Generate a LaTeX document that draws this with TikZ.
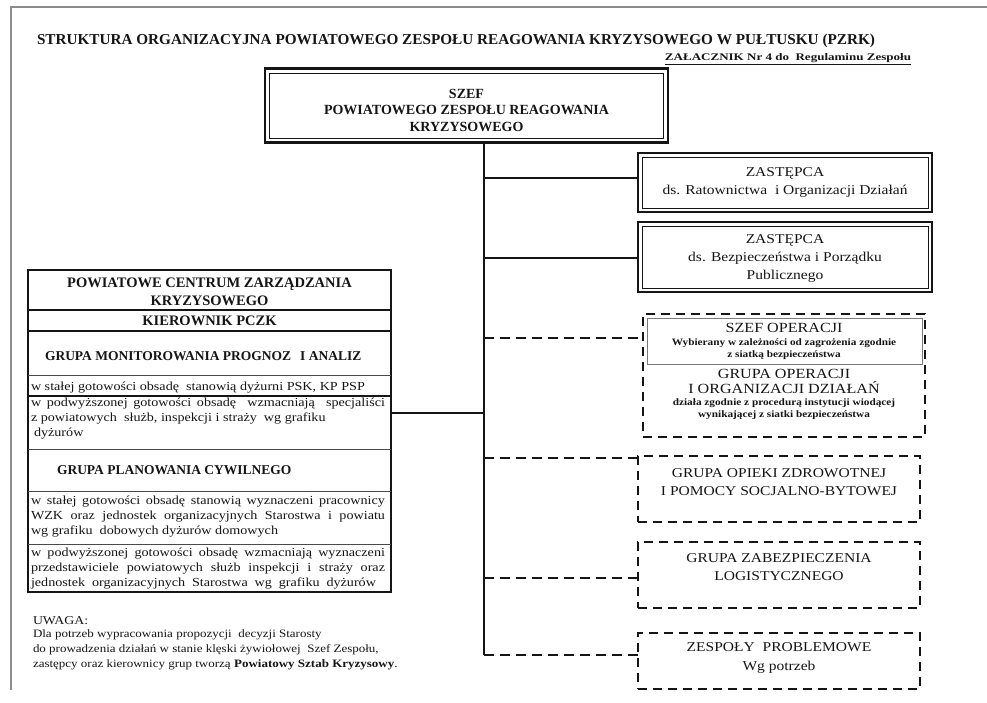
\documentclass[tikz,border=0pt]{standalone}
\usepackage{fontspec}
\usepackage{graphicx}
\setmainfont{Liberation Serif}
\newfontfamily\wideser[FakeStretch=1.15]{Liberation Serif}
\definecolor{ink}{HTML}{151515}
\definecolor{rulec}{HTML}{4A4A4A}
\definecolor{framec}{HTML}{8C8C8C}
\definecolor{innerc}{HTML}{7A7A7A}
\begin{document}
\begin{tikzpicture}[x=1pt,y=-1pt,
  every node/.style={inner sep=0pt,outer sep=0pt,text=ink},
  dblbox/.style={draw=ink,line width=2.6pt},
  innerln/.style={draw=ink,line width=0.8pt},
  thickbox/.style={draw=ink,line width=2.4pt},
  dashbox/.style={draw=ink,line width=2pt,dash pattern=on 9pt off 6pt},
  conn/.style={draw=ink,line width=1.4pt},
  dconn/.style={draw=ink,line width=1.8pt,dash pattern=on 10pt off 6pt},
  sepdark/.style={draw=ink,line width=1.5pt},
  seplight/.style={draw=rulec,line width=0.9pt},
  bighead/.style={font=\bfseries\fontsize{14}{16.5}\selectfont,align=center},
  rtext/.style={font=\wideser\fontsize{13.5}{18}\selectfont,align=center},
  smallb/.style={font=\wideser\bfseries\fontsize{9.8}{12}\selectfont,align=center},
  grouphd/.style={font=\bfseries\fontsize{13.5}{16}\selectfont,anchor=west},
  body/.style={font=\wideser\fontsize{12.3}{15}\selectfont,align=left,anchor=west},
  notebody/.style={font=\wideser\fontsize{11.3}{15}\selectfont,align=left,anchor=west}
]
\useasboundingbox (0,0) rectangle (987,703);
% page frame
\draw[framec,line width=1.2pt] (11,690) -- (11,7) -- (987,7);

% title
\node[anchor=base west] (title) at (37,45)
  {\resizebox{838pt}{10.5pt}{\bfseries STRUKTURA ORGANIZACYJNA POWIATOWEGO ZESPOŁU REAGOWANIA KRYZYSOWEGO W PUŁTUSKU (PZRK)}};
\node[anchor=base east] (zal) at (911,61)
  {\resizebox{246pt}{7pt}{\bfseries\underline{ZAŁACZNIK Nr 4 do\ \ Regulaminu Zespołu}}};

% chief
\node[dblbox,minimum width=403pt,minimum height=74pt] (szef) at (466.5,105.5) {};
\draw[innerln] ([shift={(4.5,4.5)}]szef.north west) rectangle ([shift={(-4.5,-4.5)}]szef.south east);
\node[bighead] (szeft) at (466.5,110) {SZEF\\POWIATOWEGO ZESPOŁU REAGOWANIA\\KRYZYSOWEGO};

% deputies
\node[dblbox,minimum width=294pt,minimum height=59pt] (z1) at (785,182.5) {};
\draw[innerln] ([shift={(4,4)}]z1.north west) rectangle ([shift={(-4,-4)}]z1.south east);
\node[rtext] (z1t) at (785,182) {ZASTĘPCA\\ds. Ratownictwa\ \ i Organizacji Działań};

\node[dblbox,minimum width=294pt,minimum height=70pt] (z2) at (785,257) {};
\draw[innerln] ([shift={(4,4)}]z2.north west) rectangle ([shift={(-4,-4)}]z2.south east);
\node[rtext] (z2t) at (785,258) {ZASTĘPCA\\ds. Bezpieczeństwa i Porządku\\Publicznego};

% operations group
\node[dashbox,minimum width=282pt,minimum height=123pt] (sg) at (784,375.5) {};
\node[draw=innerc,line width=0.8pt,minimum width=275pt,minimum height=46pt] (so) at (784.5,341) {};
\node[font=\wideser\fontsize{14}{15}\selectfont] (sot) at (784,328) {SZEF OPERACJI};
\node[smallb] (sos) at (784,349.5) {Wybierany w zależności od zagrożenia zgodnie\\z siatką bezpieczeństwa};
\node[font=\wideser\fontsize{14}{15}\selectfont,align=center] (got) at (784,381) {GRUPA OPERACJI\\I ORGANIZACJI DZIAŁAŃ};
\node[smallb] (gos) at (784,409.5) {działa zgodnie z procedurą instytucji wiodącej\\wynikającej z siatki bezpieczeństwa};

% other groups
\node[dashbox,minimum width=282pt,minimum height=66pt] (op) at (779,489) {};
\node[rtext] (opt) at (779,482) {GRUPA OPIEKI ZDROWOTNEJ\\I POMOCY SOCJALNO-BYTOWEJ};
\node[dashbox,minimum width=282pt,minimum height=66pt] (zb) at (779,575) {};
\node[rtext] (zbt) at (779,567) {GRUPA ZABEZPIECZENIA\\LOGISTYCZNEGO};
\node[dashbox,minimum width=282pt,minimum height=56pt] (zp) at (779,661) {};
\node[rtext,font=\wideser\fontsize{13.5}{19}\selectfont] (zpt) at (779,658) {ZESPOŁY\ \ PROBLEMOWE\\Wg potrzeb};

% PCZK box
\node[thickbox,minimum width=363pt,minimum height=322pt] (pczk) at (209.5,431) {};
\node[font=\bfseries\fontsize{14.5}{18}\selectfont,align=center] (pczkt) at (209.5,291.5) {POWIATOWE CENTRUM ZARZĄDZANIA\\KRYZYSOWEGO};
\draw[sepdark] (28,310) -- (391,310);
\node[font=\bfseries\fontsize{14.5}{18}\selectfont] (kier) at (209.5,321) {KIEROWNIK PCZK};
\draw[sepdark] (28,331) -- (391,331);
\node[grouphd] (gm) at (45,356) {GRUPA MONITOROWANIA PROGNOZ\hspace{9pt}I ANALIZ};
\draw[seplight] (28,375) -- (391,375);
\node[body] (r1) at (31,387.5) {w stałej gotowości obsadę\ \ stanowią dyżurni PSK, KP PSP};
\draw[sepdark,line width=1.1pt] (28,396) -- (391,396);
\node[body] (r2) at (31,419) {\makebox[354pt][s]{w podwyższonej gotowości obsadę\ \ wzmacniają\ \ specjaliści}\\z powiatowych\ \ służb, inspekcji i straży\ \ wg grafiku\\\hspace{3pt}dyżurów};
\draw[seplight] (28,449) -- (391,449);
\node[grouphd] (gp) at (57,470) {GRUPA PLANOWANIA CYWILNEGO};
\draw[seplight] (28,491) -- (391,491);
\node[body] (r3) at (31,517) {\makebox[354pt][s]{w stałej gotowości obsadę stanowią wyznaczeni pracownicy}\\\makebox[354pt][s]{WZK oraz jednostek organizacyjnych Starostwa i powiatu}\\wg grafiku\ \ dobowych dyżurów domowych};
\draw[seplight] (28,544) -- (391,544);
\node[body] (r4) at (31,569) {\makebox[354pt][s]{w podwyższonej gotowości obsadę wzmacniają wyznaczeni}\\\makebox[354pt][s]{przedstawiciele powiatowych służb inspekcji i straży oraz}\\\makebox[345pt][s]{jednostek organizacyjnych Starostwa wg grafiku dyżurów}};

% note
\node[anchor=west,font=\wideser\fontsize{12}{14}\selectfont] (uwaga) at (33,621) {UWAGA:};
\node[notebody] (note) at (33,650) {Dla potrzeb wypracowania propozycji\ \ decyzji Starosty\\do prowadzenia działań w stanie klęski żywiołowej\ \ Szef Zespołu,\\zastępcy oraz kierownicy grup tworzą \textbf{Powiatowy Sztab Kryzysowy}.};

% connectors
\coordinate (tr) at (484,143);
\path (z1.west) ++(0,-4.5) coordinate (b1);
\path (z2.west) ++(0,1) coordinate (b2);
\path (sg.west |- so.west) ++(0,-3) coordinate (b3);
\path (pczk.east) ++(0,-18) coordinate (bl);
\path (op.west) ++(0,-31) coordinate (b4);
\path (zb.west) ++(0,3) coordinate (b5);
\path (zp.west) ++(0,-6) coordinate (b6);
\draw[conn] (szef.south -| tr) -- (tr |- b6);
\draw[conn] (tr |- b1) -- (b1);
\draw[conn] (tr |- b2) -- (b2);
\draw[conn] (bl) -- (tr |- bl);
\draw[dconn] (tr |- b3) -- (b3);
\draw[dconn] (tr |- b4) -- (b4);
\draw[dconn] (tr |- b5) -- (b5);
\draw[dconn] (tr |- b6) -- (b6);
\end{tikzpicture}
\end{document}
